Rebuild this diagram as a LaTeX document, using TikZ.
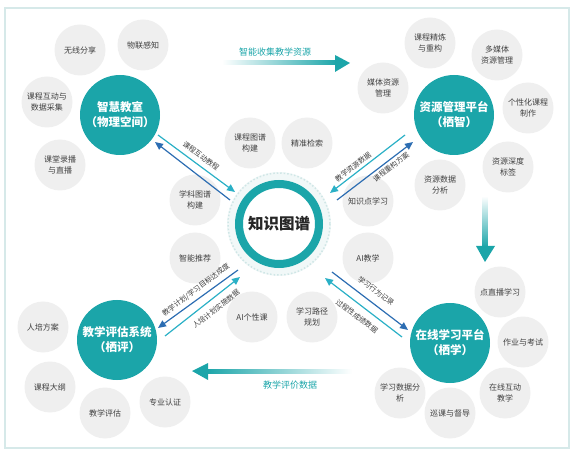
\documentclass[tikz,border=0pt]{standalone}
\usepackage{fontspec}
\setmainfont{Noto Sans CJK SC}
\usetikzlibrary{arrows.meta}
\definecolor{mainteal}{HTML}{1BA5A9}
\definecolor{subgray}{HTML}{EFEFEF}
\definecolor{txtgray}{HTML}{404040}
\definecolor{cyanarr}{HTML}{2AB0C6}
\definecolor{bluearr}{HTML}{2C6DB2}
\definecolor{framec}{HTML}{D6E9E9}
\definecolor{halo}{HTML}{F1F8F8}
\definecolor{halodot}{HTML}{CFE6E6}
\begin{document}
\begin{tikzpicture}[x=1pt,y=-1pt,
  mainc/.style={circle, fill=mainteal, minimum size=80pt, inner sep=0pt, text=white, font=\fontsize{11.5}{15}\selectfont\bfseries, align=center},
  subc/.style={circle, fill=subgray, minimum size=51pt, inner sep=0pt, text=txtgray, font=\fontsize{8}{10.5}\selectfont, align=center},
  cyanln/.style={draw=cyanarr, line width=1.2pt, -{Triangle[length=8pt,width=7pt]}},
  blueln/.style={draw=bluearr, line width=1.2pt, -{Triangle[length=8pt,width=7pt]}},
  lab/.style={font=\fontsize{7.2}{9}\selectfont, text=txtgray, inner sep=0pt},
  biglab/.style={font=\fontsize{9}{11}\selectfont, text=mainteal, inner sep=0pt}
]
\useasboundingbox (0,0) rectangle (576,457);
\draw[framec, line width=1.2pt] (5,8) rectangle (569,448);

% gray satellite circles
\node[subc] (s1) at (80,50) {无线分享};
\node[subc] (s2) at (143,45) {物联感知};
\node[subc] (s3) at (47,102) {课程互动与\\数据采集};
\node[subc] (s4) at (60,165) {课堂录播\\与直播};
\node[subc] (s5) at (195,200) {学科图谱\\构建};
\node[subc] (s6) at (250,143) {课程图谱\\构建};
\node[subc] (s7) at (307,143) {精准检索};
\node[subc] (s8) at (368,201) {知识点学习};
\node[subc] (s9) at (430,43) {课程精炼\\与重构};
\node[subc] (s10) at (497,55) {多媒体\\资源管理};
\node[subc] (s11) at (383,88) {媒体资源\\管理};
\node[subc] (s12) at (528,108) {个性化课程\\制作};
\node[subc] (s13) at (508,167) {资源深度\\标签};
\node[subc] (s14) at (440,185) {资源数据\\分析};
\node[subc] (s15) at (195,258) {智能推荐};
\node[subc] (s16) at (43,327) {人培方案};
\node[subc] (s17) at (50,387) {课程大纲};
\node[subc] (s18) at (105,413) {教学评估};
\node[subc] (s19) at (165,402) {专业认证};
\node[subc] (s20) at (252,317) {AI个性课};
\node[subc] (s21) at (312,317) {学习路径\\规划};
\node[subc] (s22) at (368,258) {AI教学};
\node[subc] (s23) at (500,292) {点直播学习};
\node[subc] (s24) at (523,342) {作业与考试};
\node[subc] (s25) at (505,393) {在线互动\\教学};
\node[subc] (s26) at (450,413) {巡课与督导};
\node[subc] (s27) at (400,393) {学习数据分\\析};

% center
\fill[halo] (279,224) circle (52);
\draw[halodot, line width=1.5pt, dotted] (279,224) circle (51);
\fill[white] (279,224) circle (44);
\draw[mainteal, line width=8pt] (279,224) circle (40);
\node[font=\fontsize{15.5}{18}\selectfont\bfseries, text=black!85] (kg) at (279,224) {知识图谱};

% main circles
\node[mainc] (m1) at (120,115) {智慧教室\\（物理空间）};
\node[mainc] (m2) at (454,115) {资源管理平台\\（栖智）};
\node[mainc] (m3) at (117,340) {教学评估系统\\（栖评）};
\node[mainc] (m4) at (450,343) {在线学习平台\\（栖学）};

% connector end points
\coordinate (a1) at (158,135); \coordinate (a2) at (235,192);
\coordinate (b1) at (230,200); \coordinate (b2) at (155,142);
\coordinate (c1) at (405,135); \coordinate (c2) at (330,193);
\coordinate (d1) at (337,200); \coordinate (d2) at (413,142);
\coordinate (e1) at (238,270); \coordinate (e2) at (158,328);
\coordinate (f1) at (165,336); \coordinate (f2) at (240,277);
\coordinate (g1) at (332,272); \coordinate (g2) at (408,330);
\coordinate (h1) at (402,337); \coordinate (h2) at (325,278);

\draw[cyanln] (a1) -- (a2);
\draw[blueln] (b1) -- (b2);
\draw[cyanln] (c1) -- (c2);
\draw[blueln] (d1) -- (d2);
\draw[blueln] (e1) -- (e2);
\draw[cyanln] (f1) -- (f2);
\draw[blueln] (g1) -- (g2);
\draw[cyanln] (h1) -- (h2);

\node[lab, rotate=-36.5] (l1) at (201,156) {课程互动教程};
\node[lab, rotate=37.5] (l2) at (353,167) {教学资源数据};
\node[lab, rotate=37.5] (l3) at (391,167) {课程重构方案};
\node[lab, rotate=37] (l4) at (196,290) {教学计划/学习目标达成度};
\node[lab, rotate=38] (l5) at (216,309) {人培计划实施数据};
\node[lab, rotate=-37] (l6) at (376,291) {学习行为记录};
\node[lab, rotate=-37] (l7) at (357,316) {过程性成绩数据};

% big flow arrows
\shade[left color=white, right color=mainteal] (222,61) rectangle (337,65);
\fill[mainteal] (335,55) -- (350,63) -- (335,72) -- cycle;
\node[biglab] (t1) at (275,52) {智能收集教学资源};

\shade[top color=white, bottom color=mainteal] (482.5,196) rectangle (487.5,247);
\fill[mainteal] (476,246) -- (485,262) -- (495,246) -- cycle;

\shade[left color=mainteal, right color=white] (206,369) rectangle (352,373);
\fill[mainteal] (208,363) -- (192,371) -- (208,380) -- cycle;
\node[biglab] (t2) at (290,385) {教学评价数据};
\end{tikzpicture}
\end{document}
